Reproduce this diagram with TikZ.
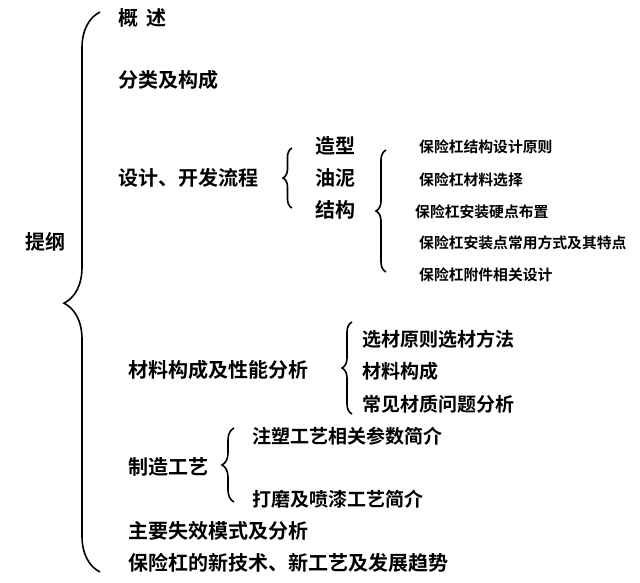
\documentclass[tikz,border=0pt]{standalone}
\usepackage{fontspec}
\setmainfont{Noto Sans CJK SC Bold}
\usetikzlibrary{decorations.pathreplacing}
\tikzset{
  big/.style={anchor=west,font=\fontsize{20}{20}\selectfont,inner sep=0pt},
  mid/.style={anchor=west,font=\fontsize{19}{19}\selectfont,inner sep=0pt},
  small/.style={anchor=west,font=\fontsize{14.8}{15}\selectfont,inner sep=0pt},
  brc/.style={draw,line width=1.6pt,decorate,decoration={brace,mirror,amplitude=#1}},
  brc/.default=10pt
}
\begin{document}
\begin{tikzpicture}[x=1pt,y=-1pt]
    \useasboundingbox (0,0) rectangle (640,583);

    % root
    \node[big] (root) at (25,242) {提纲};
    \coordinate (b0t) at (100,12);
    \coordinate (b0b) at (100,572);
    \draw[brc=36pt,decoration={aspect=0.52}] (b0t) -- (b0b);

    % first level
    \node[big] (gs) at (118,18) {概\,\ 述};
    \node[big] (fl) at (118,80) {分类及构成};
    \node[big] (sj) at (118,178) {设计、开发流程};
    \node[big] (cl) at (128,370) {材料构成及性能分析};
    \node[big] (zz) at (128,467) {制造工艺};
    \node[big] (sx) at (128,531) {主要失效模式及分析};
    \node[big] (xj) at (128,563) {保险杠的新技术、新工艺及发展趋势};

    % design flow
    \coordinate (b1t) at (292,148);
    \coordinate (b1b) at (292,208);
    \draw[brc=9pt] (b1t) -- (b1b);
    \node[big] (zx) at (315,146) {造型};
    \node[big] (yn) at (315,178) {油泥};
    \node[big] (jg) at (315,210) {结构};

    % structure
    \coordinate (b2t) at (386,150);
    \coordinate (b2b) at (386,272);
    \draw[brc=10pt,decoration={aspect=0.5}] (b2t) -- (b2b);
    \node[small] (s1) at (419,147) {保险杠结构设计原则};
    \node[small] (s2) at (419,180) {保险杠材料选择};
    \node[small] (s3) at (415,212) {保险杠安装硬点布置};
    \node[small] (s4) at (419,243) {保险杠安装点常用方式及其特点};
    \node[small] (s5) at (419,275) {保险杠附件相关设计};

    % materials
    \coordinate (b3t) at (352,322);
    \coordinate (b3b) at (352,414);
    \draw[brc=10pt] (b3t) -- (b3b);
    \node[mid] (m1) at (362,339) {选材原则选材方法};
    \node[mid] (m2) at (362,371) {材料构成};
    \node[mid] (m3) at (362,404) {常见材质问题分析};

    % manufacturing
    \coordinate (b4t) at (234,428);
    \coordinate (b4b) at (234,502);
    \draw[brc=12pt] (b4t) -- (b4b);
    \node[mid] (p1) at (252,436) {注塑工艺相关参数简介};
    \node[mid] (p2) at (252,499) {打磨及喷漆工艺简介};

\end{tikzpicture}
\end{document}
